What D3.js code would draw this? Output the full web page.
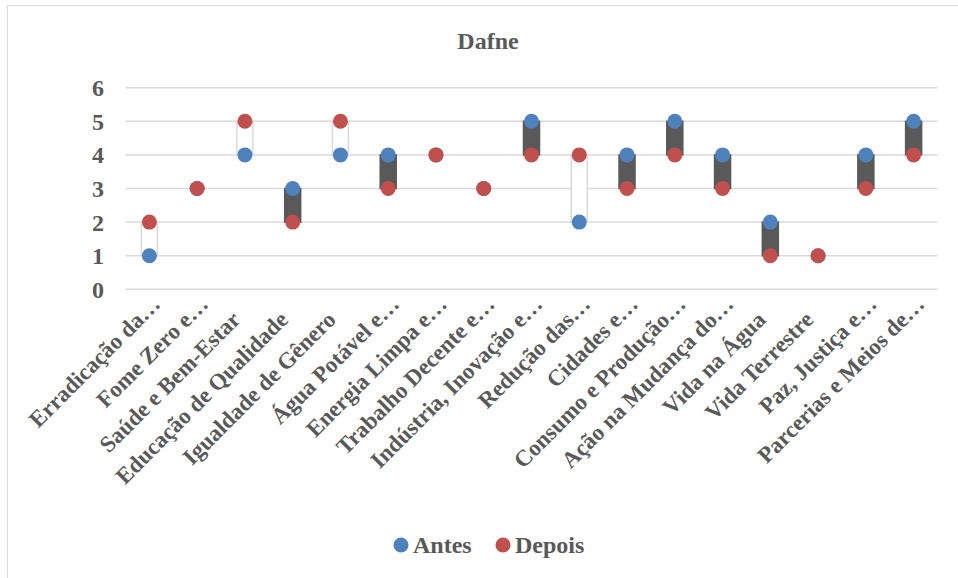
<!DOCTYPE html>
<html>
<head>
<meta charset="utf-8">
<script src="https://cdn.jsdelivr.net/npm/d3@7"></script>
<style>
  body { margin: 0; background: #fff; }
  text { font-family: "Liberation Serif", serif; font-weight: bold; fill: #595959; }
</style>
</head>
<body>
<div id="chart"></div>
<script>
// categorias (ODS) e valores antes / depois
const categorias = [
  "Erradicação da…", "Fome Zero e…", "Saúde e Bem-Estar", "Educação de Qualidade",
  "Igualdade de Gênero", "Água Potável e…", "Energia Limpa e…", "Trabalho Decente e…",
  "Indústria, Inovação e…", "Redução das…", "Cidades e…", "Consumo e Produção…",
  "Ação na Mudança do…", "Vida na Água", "Vida Terrestre", "Paz, Justiça e…",
  "Parcerias e Meios de…"
];
const antes  = [1, 3, 4, 3, 4, 4, 4, 3, 5, 2, 4, 5, 4, 2, 1, 4, 5];
const depois = [2, 3, 5, 2, 5, 3, 4, 3, 4, 4, 3, 4, 3, 1, 1, 3, 4];
const yTicks = [0, 1, 2, 3, 4, 5, 6];

const width = 958, height = 578;
const fontSize = 24;
const fontEixoX = 23;
const azul = "#4F81BD", vermelho = "#C0504D";

const svg = d3.select("#chart").append("svg")
  .attr("width", width)
  .attr("height", height);

// moldura
svg.append("rect")
  .attr("x", 7.5).attr("y", 5.5)
  .attr("width", 960).attr("height", 600)
  .attr("fill", "none").attr("stroke", "#d9d9d9").attr("stroke-width", 1);

const dados = categorias.map((c, i) => ({ cat: c, antes: antes[i], depois: depois[i] }));

const x = d3.scaleBand().domain(categorias).range([125.5, 937.5]);
const y = d3.scaleLinear().domain([0, 6]).range([289.3, 87.7]);

// titulo
svg.append("text")
  .attr("x", 488).attr("y", 49)
  .attr("text-anchor", "middle")
  .style("font-size", fontSize + "px")
  .text("Dafne");

// linhas de grade
svg.append("g").selectAll("line")
  .data(yTicks)
  .join("line")
  .attr("x1", x.range()[0]).attr("x2", x.range()[1])
  .attr("y1", d => y(d)).attr("y2", d => y(d))
  .attr("stroke", "#d9d9d9").attr("stroke-width", 1.5);

// eixo y
const eixoY = svg.append("g")
  .attr("transform", "translate(104,0)")
  .call(d3.axisLeft(y).tickValues(yTicks).tickFormat(d3.format("d")).tickSize(0).tickPadding(0));
eixoY.select(".domain").remove();
eixoY.selectAll("text")
  .attr("dy", "0.33em")
  .style("font-size", fontSize + "px")
  .attr("fill", "#595959");

// eixo x (rotulos girados); os cortados com "…" avançam um pouco mais, como no Excel
const eixoX = svg.append("g")
  .attr("transform", "translate(0," + y(0) + ")")
  .call(d3.axisBottom(x).tickSize(0).tickPadding(0));
eixoX.select(".domain").remove();
eixoX.selectAll("text")
  .attr("text-anchor", "end")
  .attr("x", d => d.endsWith("…") ? 22 : 0)
  .attr("y", 0).attr("dy", "0.35em")
  .attr("transform", "translate(-9,26) rotate(-45)")
  .style("font-size", fontEixoX + "px")
  .attr("fill", "#595959");

// barras de alta / baixa
const larguraBarra = 16;
svg.append("g").selectAll("rect")
  .data(dados.filter(d => d.antes !== d.depois))
  .join("rect")
  .attr("x", d => x(d.cat) + x.bandwidth() / 2 - larguraBarra / 2)
  .attr("y", d => y(Math.max(d.antes, d.depois)))
  .attr("width", larguraBarra)
  .attr("height", d => Math.abs(y(d.antes) - y(d.depois)))
  .attr("fill", d => d.depois > d.antes ? "#ffffff" : "#595959")
  .attr("stroke", d => d.depois > d.antes ? "#d9d9d9" : "#595959")
  .attr("stroke-width", 1.5);

// marcadores
const raio = 7.5;
svg.append("g").selectAll("circle")
  .data(dados)
  .join("circle")
  .attr("cx", d => x(d.cat) + x.bandwidth() / 2)
  .attr("cy", d => y(d.antes))
  .attr("r", raio)
  .attr("fill", azul);

svg.append("g").selectAll("circle")
  .data(dados)
  .join("circle")
  .attr("cx", d => x(d.cat) + x.bandwidth() / 2)
  .attr("cy", d => y(d.depois))
  .attr("r", raio)
  .attr("fill", vermelho);

// legenda
const legenda = [
  { nome: "Antes", cor: azul, cx: 401, tx: 413 },
  { nome: "Depois", cor: vermelho, cx: 503, tx: 515 }
];
const itens = svg.append("g").selectAll("g")
  .data(legenda)
  .join("g");
itens.append("circle")
  .attr("cx", d => d.cx).attr("cy", 545)
  .attr("r", raio)
  .attr("fill", d => d.cor);
itens.append("text")
  .attr("x", d => d.tx).attr("y", 553)
  .style("font-size", fontSize + "px")
  .text(d => d.nome);
</script>
</body>
</html>
